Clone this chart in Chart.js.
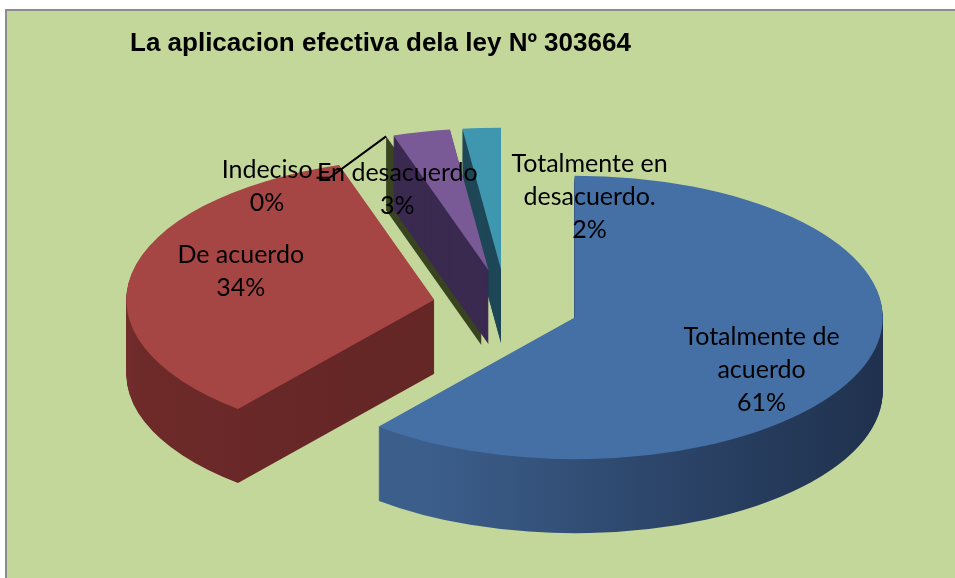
<!DOCTYPE html>
<html><head><meta charset="utf-8">
<script src="https://cdn.jsdelivr.net/npm/chart.js@4.4.1/dist/chart.umd.min.js"></script>
<style>
html,body{margin:0;padding:0;background:#fff;width:955px;height:578px;overflow:hidden}
#frame{position:absolute;left:5px;top:9px;right:0;bottom:0;border-left:2px solid #8c8c8c;border-top:2px solid #8c8c8c;background:#C4D79B}
#wrap{position:absolute;left:0;top:0;width:955px;height:578px}
</style></head><body>
<div id="frame"></div>
<div id="wrap"><canvas id="c" width="955" height="578"></canvas></div>
<script>
// ---- data ----
const categories = ['Totalmente de acuerdo', 'De acuerdo', 'Indeciso', 'En desacuerdo', 'Totalmente en desacuerdo.'];
const percentages = [61, 34, 0, 3, 2];
const labelLines = [['Totalmente de', 'acuerdo'], ['De acuerdo'], ['Indeciso'], ['En desacuerdo'], ['Totalmente en', 'desacuerdo.']];
const chartTitle = 'La aplicacion efectiva dela ley Nº 303664';

// ---- style ----
const topColors = ['#4570A6', '#A64644', '#9BBB59', '#7A5A96', '#3F97AF'];
const explodeDist = [73, 73, 80, 80, 80];
const K = 0.46;          // vertical squash of the pie (tilt)
const DEPTH = 74;        // thickness in px
// label placement: [radial factor, dx, dy]
const labelPlace = [[0.6, 13, 24], [0.6, -12, -12], [1.0, -119, 50], [1.0, -24, 58], [1.0, 108, 69]];
const LABEL_FONT = "25px Lato, 'Open Sans', sans-serif";
const LINE_H = 33;

function toScreenY(cy, y) { return cy + (y - cy) * K; }
function arcCenter(arc, i) {
  const half = (arc.startAngle + arc.endAngle) / 2;
  const dist = explodeDist[i];
  return { x: arc.x + Math.cos(half) * dist, y: arc.y + Math.sin(half) * dist, half, tx: Math.cos(half) * dist, ty: Math.sin(half) * dist * K };
}

const pie3d = {
  id: 'pie3d',
  beforeDatasetsDraw(chart) {
    const ctx = chart.ctx;
    const arcs = chart.getDatasetMeta(0).data;
    const cy = arcs[0].y;
    const g = (x0, x1, stops) => { const gr = ctx.createLinearGradient(x0, 0, x1, 0); stops.forEach(s => gr.addColorStop(s[0], s[1])); return gr; };
    const sideFill = [
      g(360, 890, [[0, '#3c5e8b'], [0.5, '#2a4265'], [1, '#1b2a44']]),
      g(125, 440, [[0, '#8e3c39'], [0.28, '#6d2a29'], [1, '#652626']]),
      '#38431f',
      '#3a2a50',
      '#1f4858'
    ];
    const drawArc = (arc, i, d, fill) => {
      const c = arcCenter(arc, i);
      const ghost = Object.create(arc);
      ghost.options = Object.assign({}, arc.options, { backgroundColor: fill, borderWidth: 0, offset: 0 });
      ctx.save();
      ctx.translate(c.tx, cy + d + c.ty); ctx.scale(1, K); ctx.translate(0, -cy);
      ghost.draw(ctx);
      ctx.restore();
    };
    // walls of zero-width slices
    arcs.forEach((arc, i) => {
      if (arc.circumference > 0) return;
      const c = arcCenter(arc, i), a = arc.startAngle, R = arc.outerRadius;
      const x1 = c.x, y1 = toScreenY(cy, c.y);
      const x2 = c.x + Math.cos(a) * R, y2 = toScreenY(cy, c.y + Math.sin(a) * R);
      ctx.save();
      ctx.fillStyle = sideFill[i];
      ctx.beginPath();
      ctx.moveTo(x1, y1); ctx.lineTo(x2, y2); ctx.lineTo(x2, y2 + DEPTH); ctx.lineTo(x1, y1 + DEPTH);
      ctx.closePath(); ctx.fill();
      ctx.restore();
    });
    for (let d = DEPTH; d >= 1; d--) {
      arcs.forEach((arc, i) => { if (arc.circumference > 0) drawArc(arc, i, d, sideFill[i]); });
    }
    arcs.forEach((arc, i) => { if (arc.circumference > 0) drawArc(arc, i, 0, arc.options.backgroundColor); });
    return false;
  },
  afterDraw(chart) {
    const ctx = chart.ctx;
    const arcs = chart.getDatasetMeta(0).data;
    const cy = arcs[0].y;
    const vals = chart.data.datasets[0].data;
    const total = vals.reduce((a, b) => a + b, 0);
    ctx.save();
    ctx.font = LABEL_FONT;
    ctx.fillStyle = '#000';
    ctx.textAlign = 'center';
    ctx.textBaseline = 'middle';
    arcs.forEach((arc, i) => {
      const c = arcCenter(arc, i);
      const [f, dx, dy] = labelPlace[i];
      const R = arc.outerRadius;
      const ax = c.x + Math.cos(c.half) * R * f + dx;
      const ay = toScreenY(cy, c.y + Math.sin(c.half) * R * f) + dy;
      const lines = labelLines[i].concat([Math.round(vals[i] / total * 100) + '%']);
      const y0 = ay - (lines.length - 1) * LINE_H / 2;
      lines.forEach((t, j) => ctx.fillText(t, ax, y0 + j * LINE_H));
      if (vals[i] === 0) {
        const w = ctx.measureText(lines[0]).width;
        const sx = ax + w / 2 + 4, sy = y0 + 8;
        const a = arc.startAngle;
        const ex = c.x + Math.cos(a) * R, ey = toScreenY(cy, c.y + Math.sin(a) * R);
        ctx.beginPath();
        ctx.strokeStyle = '#000'; ctx.lineWidth = 2;
        ctx.moveTo(sx, sy); ctx.lineTo(sx + 13, sy); ctx.lineTo(ex, ey);
        ctx.stroke();
      }
    });
    ctx.restore();
  }
};

new Chart(document.getElementById('c'), {
  type: 'pie',
  data: {
    labels: categories,
    datasets: [{
      data: percentages,
      backgroundColor: topColors,
      borderWidth: 0,
      radius: 308,
      clip: false
    }]
  },
  options: {
    responsive: false,
    animation: false,
    events: [],
    layout: { padding: { left: 130, right: 73, top: 28, bottom: 35 } },
    plugins: {
      legend: { display: false },
      tooltip: { enabled: false },
      title: {
        display: true, text: chartTitle, align: 'start', color: '#000',
        font: { family: "'Liberation Sans', Arial, sans-serif", size: 26, weight: 'bold' },
        padding: { top: 0, bottom: 10 }
      }
    }
  },
  plugins: [pie3d]
});
</script>
</body></html>
